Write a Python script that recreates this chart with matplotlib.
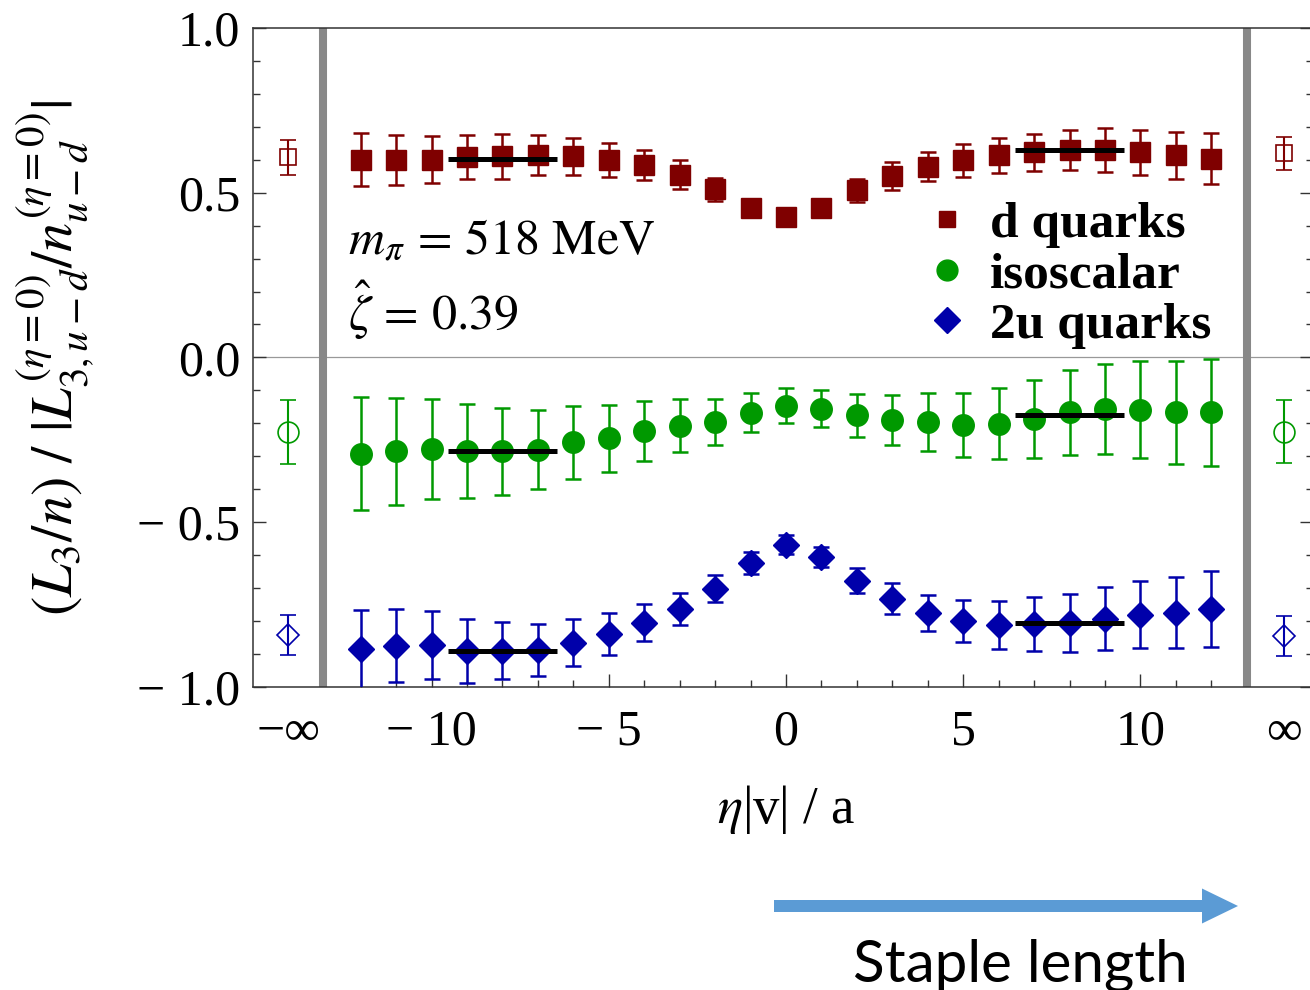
import matplotlib
matplotlib.use('Agg')
import matplotlib.pyplot as plt
from matplotlib.lines import Line2D
from matplotlib.patches import FancyArrow
from matplotlib.ticker import FixedLocator

plt.rcParams['font.family'] = 'Liberation Serif'
plt.rcParams['mathtext.fontset'] = 'stix'

# staple extent eta|v|/a
eta = list(range(-12, 13))

d_val = [0.600, 0.600, 0.600, 0.608, 0.610, 0.615, 0.610, 0.600, 0.585, 0.555, 0.510, 0.455, 0.425,
         0.455, 0.507, 0.550, 0.578, 0.598, 0.613, 0.623, 0.630, 0.630, 0.623, 0.613, 0.603]
d_err = [0.080, 0.076, 0.071, 0.068, 0.067, 0.061, 0.055, 0.052, 0.046, 0.043, 0.035, 0.025, 0.015,
         0.025, 0.035, 0.042, 0.044, 0.050, 0.053, 0.056, 0.060, 0.066, 0.068, 0.072, 0.078]

iso_val = [-0.292, -0.285, -0.277, -0.285, -0.285, -0.280, -0.258, -0.245, -0.222, -0.207, -0.197, -0.168, -0.146,
           -0.155, -0.176, -0.189, -0.197, -0.205, -0.201, -0.186, -0.167, -0.156, -0.158, -0.167, -0.167]
iso_err = [0.172, 0.163, 0.152, 0.143, 0.132, 0.120, 0.112, 0.102, 0.091, 0.080, 0.070, 0.059, 0.052,
           0.056, 0.065, 0.076, 0.088, 0.097, 0.108, 0.118, 0.128, 0.137, 0.147, 0.155, 0.163]

u2_val = [-0.885, -0.875, -0.872, -0.890, -0.890, -0.888, -0.866, -0.839, -0.805, -0.763, -0.702, -0.623, -0.568,
          -0.605, -0.678, -0.733, -0.775, -0.800, -0.812, -0.809, -0.805, -0.793, -0.781, -0.775, -0.763]
u2_err = [0.120, 0.111, 0.103, 0.097, 0.087, 0.079, 0.071, 0.064, 0.056, 0.049, 0.041, 0.033, 0.030,
          0.030, 0.038, 0.047, 0.055, 0.064, 0.073, 0.082, 0.088, 0.096, 0.102, 0.108, 0.115]

# eta -> -inf / +inf extrapolations (drawn outside the separators)
inf_pos = [-14.05, 14.05]
d_inf = [0.608, 0.620]
d_inf_err = [0.053, 0.050]
iso_inf = [-0.225, -0.225]
iso_inf_err = [0.097, 0.096]
u2_inf = [-0.842, -0.845]
u2_inf_err = [0.061, 0.061]

# plateau fits
fit_lo = [-9.55, 6.45]
fit_hi = [-6.45, 9.55]
d_fit = [0.603, 0.629]
iso_fit = [-0.285, -0.174]
u2_fit = [-0.890, -0.805]

separators = [-13.05, 13.02]
xtick_pos = [-14.05, -10, -5, 0, 5, 10, 14.05]
xtick_lab = ['\u2212\u221e', '\u2212 10', '\u2212 5', '0', '5', '10', '\u221e']
ytick_pos = [-1.0, -0.5, 0.0, 0.5, 1.0]
ytick_lab = ['\u2212 1.0', '\u2212 0.5', '0.0', '0.5', '1.0']

D_COL = '#7f0000'
ISO_COL = '#009900'
U_COL = '#0000aa'

fig = plt.figure(figsize=(13.1, 9.9), dpi=100)
ax = fig.add_axes([0.1931, 0.3061, 0.8092, 0.6657])

ax.axhline(0, color='#999999', lw=0.9, zorder=1)
for xs in separators:
    ax.axvline(xs, color='#888888', lw=5.8, zorder=1)

eb = dict(elinewidth=1.8, capsize=5.5, capthick=1.8, zorder=3, ls='none')
ax.errorbar(eta, d_val, yerr=d_err, marker='s', ms=13.7, color=D_COL, **eb)
ax.errorbar(eta, iso_val, yerr=iso_err, marker='o', ms=15.5, color=ISO_COL, **eb)
ax.errorbar(eta, u2_val, yerr=u2_err, marker='D', ms=13.5, color=U_COL, **eb)

hb = dict(elinewidth=1.5, capsize=5.5, capthick=1.5, zorder=3, ls='none', mfc='none', mew=1.2)
ax.errorbar(inf_pos, d_inf, yerr=d_inf_err, marker='s', ms=12, color=D_COL, **hb)
ax.errorbar(inf_pos, iso_inf, yerr=iso_inf_err, marker='o', ms=15, color=ISO_COL, **hb)
ax.errorbar(inf_pos, u2_inf, yerr=u2_inf_err, marker='D', ms=11, color=U_COL, **hb)

for fit in (d_fit, iso_fit, u2_fit):
    ax.hlines(fit, fit_lo, fit_hi, colors='black', lw=3.6, zorder=4)

ax.set_xlim(-15.04, 14.87)
ax.set_ylim(-1.0, 1.0)

ax.xaxis.set_major_locator(FixedLocator(xtick_pos))
ax.set_xticklabels(xtick_lab)
ax.xaxis.set_minor_locator(FixedLocator(list(range(-12, 13))))
ax.yaxis.set_major_locator(FixedLocator(ytick_pos))
ax.set_yticklabels(ytick_lab)
ax.yaxis.set_minor_locator(FixedLocator([i / 10 for i in range(-10, 11)]))

ax.tick_params(axis='both', which='both', direction='in', colors='#333333', labelcolor='black',
               labelsize=36)
ax.tick_params(axis='x', which='major', length=9.5, width=1.0, pad=16, top=False)
ax.tick_params(axis='x', which='minor', length=5, width=1.0, top=False)
ax.tick_params(axis='y', which='major', length=9.5, width=1.0, pad=9, right=True)
ax.tick_params(axis='y', which='minor', length=5, width=1.0, right=True)
for t in ax.xaxis.get_major_ticks():
    if t.get_loc() in inf_pos:
        t.tick1line.set_visible(False)
        t.tick2line.set_visible(False)

for sp in ax.spines.values():
    sp.set_color('#333333')
    sp.set_linewidth(1.1)

ax.set_xlabel(r'$\eta$|v| / a', fontsize=38)
ax.xaxis.set_label_coords(0.503, -0.145)
ax.set_ylabel(r'$(L_3/n)\ /\ |L^{(\eta=0)}_{3,u-d}/n^{(\eta=0)}_{u-d}|$', fontsize=42)
ax.yaxis.set_label_coords(-0.148, 0.5)

ax.text(0.0896, 0.657, r'$m_{\pi}\, = \,\mathrm{518\ MeV}$', transform=ax.transAxes,
        fontsize=36, ha='left', va='baseline')
ax.text(0.0896, 0.542, r'$\hat{\zeta}\, = \,0.39$', transform=ax.transAxes,
        fontsize=36, ha='left', va='baseline')

handles = [Line2D([], [], ls='none', marker='s', ms=11.5, color=D_COL),
           Line2D([], [], ls='none', marker='o', ms=15, color=ISO_COL),
           Line2D([], [], ls='none', marker='D', ms=13, color=U_COL)]
ax.legend(handles, ['d quarks', 'isoscalar', '2u quarks'], loc='center',
          bbox_to_anchor=(0.767, 0.625), frameon=False, borderpad=0,
          handlelength=1.0, handletextpad=0.33, labelspacing=0.07,
          prop={'family': 'Liberation Serif', 'weight': 'bold', 'size': 37})

fig.add_artist(FancyArrow(7.74, 0.84, 4.64, 0, width=0.12, head_width=0.35, head_length=0.36,
                          length_includes_head=True, transform=fig.dpi_scale_trans,
                          color='#5b9bd5', lw=0))
fig.text(0.7786, 0.0081, 'Staple length', family='Lato', fontsize=42, ha='center', va='baseline')

fig.savefig('out.png', dpi=100)
